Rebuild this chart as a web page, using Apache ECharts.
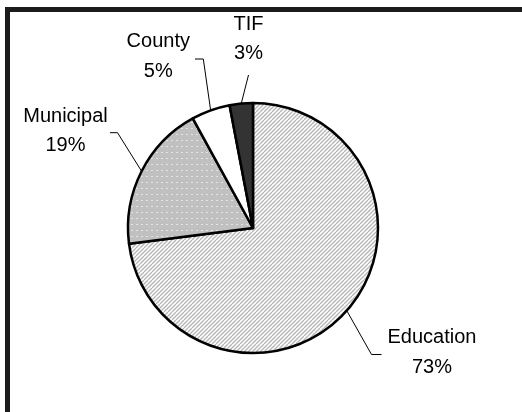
<!DOCTYPE html>
<html>
<head>
<meta charset="utf-8">
<script src="https://cdn.jsdelivr.net/npm/echarts@6/dist/echarts.min.js"></script>
<style>
  html, body { margin: 0; padding: 0; background: #fff; }
  #chart { width: 522px; height: 412px; }
</style>
</head>
<body>
<div id="chart"></div>
<script>
// Revenue shares by taxing body
const categories = ['Education', 'Municipal', 'County', 'TIF'];
const shares = [73, 19, 5, 3];

// Label placement: centre of each two-line label, and where its leader
// line meets the label (offset from that centre, plus a short elbow run)
const labelPlacement = [
  { centre: [432, 352.5], end: [-50.5, 2], run: -10 },
  { centre: [65.5, 131],  end: [44.5, 1.7], run: 7.5 },
  { centre: [158.3, 56.7], end: [36.7, 2.3], run: 8.3 },
  { centre: [248.5, 39],  end: [0, 36], run: 0 }
];

function hatchPattern() {
  const c = document.createElement('canvas');
  c.width = 8; c.height = 8;
  const g = c.getContext('2d');
  g.fillStyle = '#ffffff';
  g.fillRect(0, 0, 8, 8);
  g.strokeStyle = '#b6b6b6';
  g.lineWidth = 1.3;
  for (let x = -8; x <= 8; x += 4) {
    g.beginPath();
    g.moveTo(x, 8);
    g.lineTo(x + 8, 0);
    g.stroke();
  }
  return c;
}

function dotPattern() {
  const c = document.createElement('canvas');
  c.width = 5; c.height = 6;
  const g = c.getContext('2d');
  g.fillStyle = '#c0c0c0';
  g.fillRect(0, 0, 5, 6);
  g.fillStyle = '#e4e4e4';
  g.fillRect(1, 2, 2, 1);
  return c;
}

const fills = [
  { image: hatchPattern(), repeat: 'repeat' },
  { image: dotPattern(), repeat: 'repeat' },
  '#ffffff',
  '#333333'
];

const chart = echarts.init(document.getElementById('chart'), null, { renderer: 'canvas' });

chart.setOption({
  backgroundColor: '#ffffff',
  animation: false,
  graphic: [
    { type: 'rect', shape: { x: 5, y: 7, width: 517, height: 5 }, style: { fill: '#1c1c1c' } },
    { type: 'rect', shape: { x: 5, y: 7, width: 5, height: 405 }, style: { fill: '#1c1c1c' } }
  ],
  series: [{
    type: 'pie',
    center: [253, 228],
    radius: [0, 125],
    startAngle: 90,
    clockwise: true,
    avoidLabelOverlap: false,
    data: categories.map((name, i) => ({
      name: name,
      value: shares[i],
      itemStyle: { color: fills[i] }
    })),
    itemStyle: { borderColor: '#000000', borderWidth: 2.5 },
    label: {
      show: true,
      position: 'outside',
      formatter: '{b}\n{c}%',
      fontFamily: '"Liberation Sans", Arial, sans-serif',
      fontSize: 20,
      lineHeight: 29.5,
      color: '#000000',
      align: 'center'
    },
    labelLine: {
      show: true,
      length: 20,
      length2: 6,
      lineStyle: { color: '#000000', width: 1 }
    },
    labelLayout: function (params) {
      const p = labelPlacement[params.dataIndex];
      // start of the leader line: the point on the arc that the pie layout computed
      const start = params.labelLinePoints ? params.labelLinePoints[0] : null;
      const endX = p.centre[0] + p.end[0];
      const endY = p.centre[1] + p.end[1];
      const out = { x: p.centre[0], y: p.centre[1], align: 'center', verticalAlign: 'middle' };
      if (start) {
        out.labelLinePoints = [
          [start[0], start[1]],
          [endX + p.run, endY],
          [endX, endY]
        ];
      }
      return out;
    },
    emphasis: { disabled: true }
  }]
});
</script>
</body>
</html>
